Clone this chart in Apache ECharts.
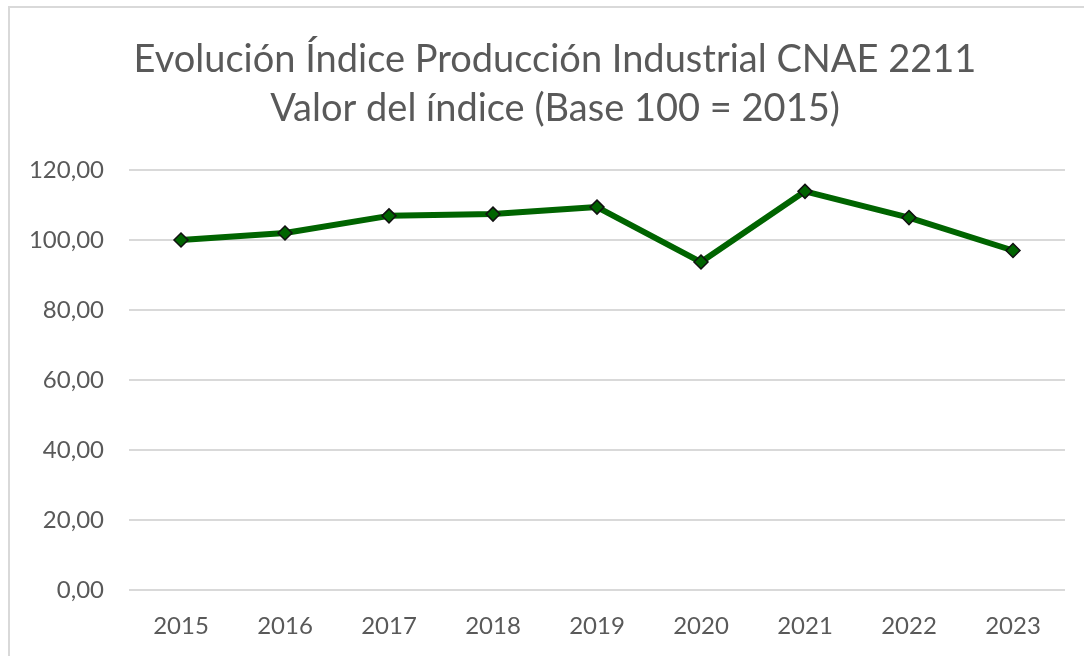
<!DOCTYPE html>
<html>
<head>
<meta charset="utf-8">
<title>Evolución Índice Producción Industrial CNAE 2211</title>
<script src="https://cdn.jsdelivr.net/npm/echarts@6/dist/echarts.min.js"></script>
<style>
  html, body { margin: 0; padding: 0; background: #fff; }
  #frame {
    position: absolute; left: 8px; top: 6px; width: 1090px; height: 660px;
    border: 2px solid #d9d9d9; box-sizing: border-box;
  }
  #chart { position: absolute; left: 0; top: 0; width: 1084px; height: 656px; }
</style>
</head>
<body>
<div id="frame"></div>
<div id="chart"></div>
<script>
  // datos
  var years = ['2015', '2016', '2017', '2018', '2019', '2020', '2021', '2022', '2023'];
  var indice = [100.0, 102.0, 106.9, 107.4, 109.4, 93.7, 113.9, 106.4, 97.0];

  var titulo = 'Evolución Índice Producción Industrial CNAE 2211\nValor del índice (Base 100 = 2015)';
  var gris = '#595959';
  var fuente = 'Lato';

  var myChart = echarts.init(document.getElementById('chart'));
  var option = {
    animation: false,
    title: {
      text: titulo,
      left: 550,
      top: 30,
      textAlign: 'center',
      textStyle: {
        color: gris,
        fontFamily: fuente,
        fontWeight: 'normal',
        fontSize: 38,
        lineHeight: 49
      }
    },
    grid: { left: 129, right: 19, top: 170, bottom: 66 },
    xAxis: {
      type: 'category',
      data: years,
      boundaryGap: true,
      axisLine: { show: false },
      axisTick: { show: false },
      axisLabel: { color: gris, fontFamily: fuente, fontSize: 24, margin: 24 }
    },
    yAxis: {
      type: 'value',
      min: 0,
      max: 120,
      interval: 20,
      axisLine: { show: false },
      axisTick: { show: false },
      splitLine: { lineStyle: { color: '#d9d9d9', width: 2 } },
      axisLabel: {
        color: gris, fontFamily: fuente, fontSize: 24, margin: 25,
        formatter: function (v) { return v.toFixed(2).replace('.', ','); }
      }
    },
    series: [{
      type: 'line',
      data: indice,
      symbol: 'diamond',
      symbolSize: 14,
      lineStyle: { color: '#006400', width: 6 },
      itemStyle: { color: '#006400', borderColor: '#111', borderWidth: 1.5 }
    }]
  };
  myChart.setOption(option);
</script>
</body>
</html>
